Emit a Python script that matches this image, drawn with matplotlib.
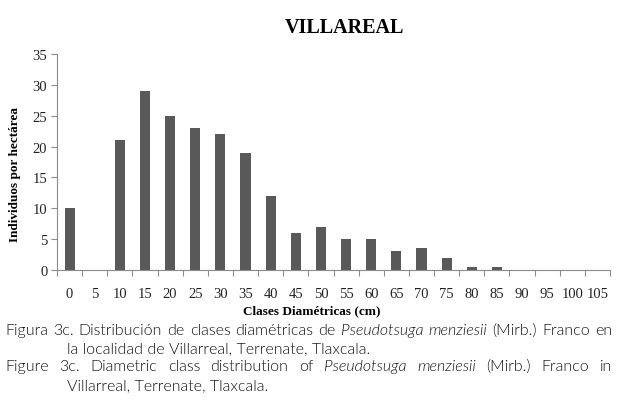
import numpy as np
import matplotlib
matplotlib.use("Agg")
import matplotlib.pyplot as plt
from matplotlib.ticker import FixedLocator

# diametric classes (cm) and individuals per hectare
clases = ["0", "5", "10", "15", "20", "25", "30", "35", "40", "45", "50",
          "55", "60", "65", "70", "75", "80", "85", "90", "95", "100", "105"]
individuos = [10, 0, 21, 29, 25, 23, 22, 19, 12, 6, 7,
              5, 5, 3, 3.5, 2, 0.5, 0.5, 0, 0, 0, 0]

y_ticks = [0, 5, 10, 15, 20, 25, 30, 35]

W, H = 623, 414
SERIF = "Liberation Serif"
CAPTION = "Lato"
CAP_WEIGHT = 300
CAP_SIZE = 11.5
BAR_COLOR = "#595959"
AXIS_COLOR = "#8c8c8c"

fig = plt.figure(figsize=(W / 100, H / 100), dpi=100)
ax = fig.add_axes([57 / W, (H - 271) / H, (610 - 57) / W, (271 - 55) / H])

x = np.arange(len(clases))
ax.bar(x, individuos, width=0.4, color=BAR_COLOR, zorder=2)

ax.set_xlim(-0.5, len(clases) - 0.5)
ax.set_ylim(0, 35)
ax.set_yticks(y_ticks)
ax.set_xticks(x)
ax.set_xticklabels(clases)
ax.xaxis.set_minor_locator(FixedLocator(np.arange(-0.5, len(clases), 1.0)))
ax.tick_params(axis="x", which="major", length=0, pad=12)
ax.tick_params(axis="x", which="minor", length=4, color=AXIS_COLOR, width=0.8)
ax.tick_params(axis="y", length=4, color=AXIS_COLOR, width=0.8, pad=3)
for lab in ax.get_xticklabels() + ax.get_yticklabels():
    lab.set_fontfamily(SERIF)
    lab.set_fontsize(10.5)
    lab.set_color("#222222")

for side in ["top", "right"]:
    ax.spines[side].set_visible(False)
for side in ["left", "bottom"]:
    ax.spines[side].set_color(AXIS_COLOR)
    ax.spines[side].set_linewidth(0.8)

fig.text(344 / W, 1 - 28 / H, "VILLAREAL", family=SERIF, weight="bold",
         fontsize=14.5, ha="center", va="center")
fig.text(312 / W, 1 - 311 / H, "Clases Diamétricas (cm)", family=SERIF,
         weight="bold", fontsize=9.5, ha="center", va="center")
fig.text(15 / W, 1 - 175 / H, "Individuos por hectárea", family=SERIF,
         weight="bold", fontsize=9.5, ha="center", va="center", rotation=90)

renderer = fig.canvas.get_renderer()


def caption_justified(words, y_px, x0_px, x1_px, size=CAP_SIZE):
    """Place the words of a caption line justified between x0_px and x1_px."""
    texts = []
    for w, style in words:
        t = fig.text(0, 1 - y_px / H, w, family=CAPTION, weight=CAP_WEIGHT,
                     style=style, fontsize=size, va="center", ha="left",
                     color="#111111")
        texts.append(t)
    widths = [t.get_window_extent(renderer).width for t in texts]
    gap = (x1_px - x0_px - sum(widths)) / (len(words) - 1)
    pos = x0_px
    for t, w in zip(texts, widths):
        t.set_x(pos / W)
        pos += w + gap


def caption_plain(text, y_px, x0_px, size=CAP_SIZE):
    fig.text(x0_px / W, 1 - y_px / H, text, family=CAPTION, weight=CAP_WEIGHT,
             fontsize=size, va="center", ha="left", color="#111111")


def words_of(text, italic=()):
    return [(w, "italic" if w in italic else "normal") for w in text.split()]


ital = ("Pseudotsuga", "menziesii")
caption_justified(words_of("Figura 3c. Distribución de clases diamétricas de "
                           "Pseudotsuga menziesii (Mirb.) Franco en", ital),
                  331, 5, 612)
caption_plain("la localidad de Villarreal, Terrenate, Tlaxcala.", 349, 67)
caption_justified(words_of("Figure 3c. Diametric class distribution of "
                           "Pseudotsuga menziesii (Mirb.) Franco in", ital),
                  367, 5, 612)
caption_plain("Villarreal, Terrenate, Tlaxcala.", 386, 67)

fig.savefig("out.png", dpi=100)
